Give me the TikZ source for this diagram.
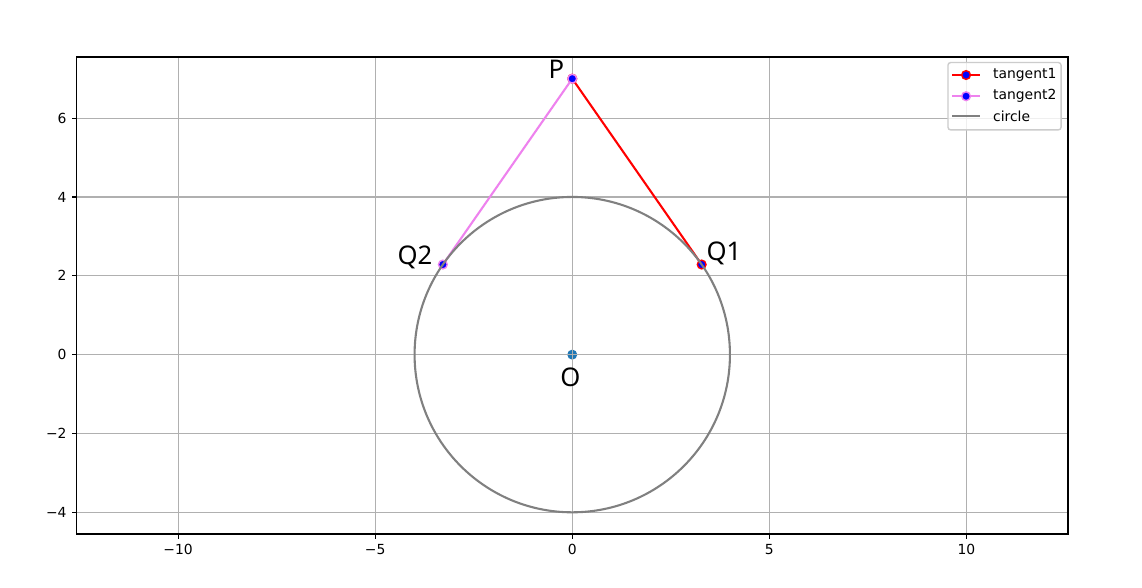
\documentclass[tikz,border=0pt]{standalone}
\usepackage{fontspec}
\setmainfont{DejaVu Sans}
\newfontfamily\lblfont{Noto Sans}
\definecolor{gridgray}{HTML}{B0B0B0}
\definecolor{mviolet}{HTML}{EE82EE}
\definecolor{cblue}{HTML}{1F77B4}
\definecolor{legedge}{HTML}{CCCCCC}
\begin{document}
\begin{tikzpicture}[x=28.382pt,y=28.382pt,
  gridline/.style={draw=gridgray,line width=0.8pt},
  spine/.style={draw=black,line width=0.8pt},
  tickline/.style={draw=black,line width=0.8pt},
  ticklbl/.style={font=\fontsize{10pt}{12pt}\selectfont,inner sep=0pt},
  tanone/.style={draw=red,line width=1.5pt},
  tantwo/.style={draw=mviolet,line width=1.5pt},
  circline/.style={draw=gray,line width=1.5pt},
  mkone/.style={circle,fill=blue,draw=red,line width=1pt,minimum size=6.3pt,inner sep=0pt},
  mktwo/.style={circle,fill=blue,draw=mviolet,line width=1pt,minimum size=6.3pt,inner sep=0pt},
  ptlbl/.style={font=\lblfont\fontsize{18.5pt}{20pt}\selectfont,inner sep=0pt},
  leglbl/.style={font=\fontsize{10pt}{12pt}\selectfont,inner sep=0pt,anchor=west}
]
\useasboundingbox (-14.517,-5.895) rectangle (14.453,8.996);
\fill[white] (-14.517,-5.895) rectangle (14.453,8.996);
% axes corners
\coordinate (axsw) at (-12.576,-4.551);
\coordinate (axne) at (12.576,7.549);
\begin{scope}
\clip (axsw) rectangle (axne);
% scatter O (below grid)
\fill[cblue] (0,0) circle (3.6pt);
\node[inner sep=0pt,minimum size=0pt] (O) at (0,0) {};
% grid
\foreach \gx in {-10,-5,0,5,10} \draw[gridline] (\gx,-4.551) -- (\gx,7.549);
\foreach \gy in {-4,-2,0,2,4,6} \draw[gridline] (-12.576,\gy) -- (12.576,\gy);
% points
\coordinate (P) at (0,7);
\coordinate (Q1) at (3.2830,2.2857);
\coordinate (Q2) at (-3.2830,2.2857);
% tangent1
\draw[tanone] (P) -- (Q1);
\node[mkone] (mP1) at (P) {};
\node[mkone] (mQ1) at (Q1) {};
% tangent2
\draw[tantwo] (P) -- (Q2);
\node[mktwo] (mP2) at (P) {};
\node[mktwo] (mQ2) at (Q2) {};
% circle
\draw[circline] (O) circle (4);
\end{scope}
% spines
\draw[spine] (axsw) rectangle (axne);
% ticks
\foreach \gx/\lab in {-10/{−10},-5/{−5},0/0,5/5,10/10} {
  \draw[tickline] (\gx,-4.551) -- ++(0,-3.5pt);
  \node[ticklbl,anchor=north] at ([yshift=-7pt]\gx,-4.551) {\lab};
}
\foreach \gy/\lab in {-4/{−4},-2/{−2},0/0,2/2,4/4,6/6} {
  \draw[tickline] (-12.576,\gy) -- ++(-3.5pt,0);
  \node[ticklbl,anchor=east] at ([xshift=-7pt]-12.576,\gy) {\lab};
}
% point labels
\node[ptlbl,anchor=base east] (lP) at (-0.2,7.0) {P};
\node[ptlbl,anchor=base east] (lQ2) at (-3.54,2.286) {Q2};
\node[ptlbl,anchor=base west] (lQ1) at (3.40,2.39) {Q1};
\node[ptlbl,anchor=base] (lO) at (-0.05,-0.82) {O};
% legend
\draw[draw=legedge,fill=white,fill opacity=0.8,line width=1pt,rounded corners=2pt] (9.53,5.70) rectangle (12.40,7.41);
\coordinate (l1a) at (9.635,7.093);
\coordinate (l1b) at (10.345,7.093);
\coordinate (l2a) at (9.635,6.555);
\coordinate (l2b) at (10.345,6.555);
\coordinate (l3a) at (9.635,6.047);
\coordinate (l3b) at (10.345,6.047);
\draw[tanone] (l1a) -- (l1b);
\node[mkone] (lm1) at (9.99,7.093) {};
\draw[tantwo] (l2a) -- (l2b);
\node[mktwo] (lm2) at (9.99,6.555) {};
\draw[circline] (l3a) -- (l3b);
\node[leglbl] (t1) at (10.67,7.093) {tangent1};
\node[leglbl] (t2) at (10.67,6.555) {tangent2};
\node[leglbl] (t3) at (10.67,6.047) {circle};
\end{tikzpicture}
\end{document}
